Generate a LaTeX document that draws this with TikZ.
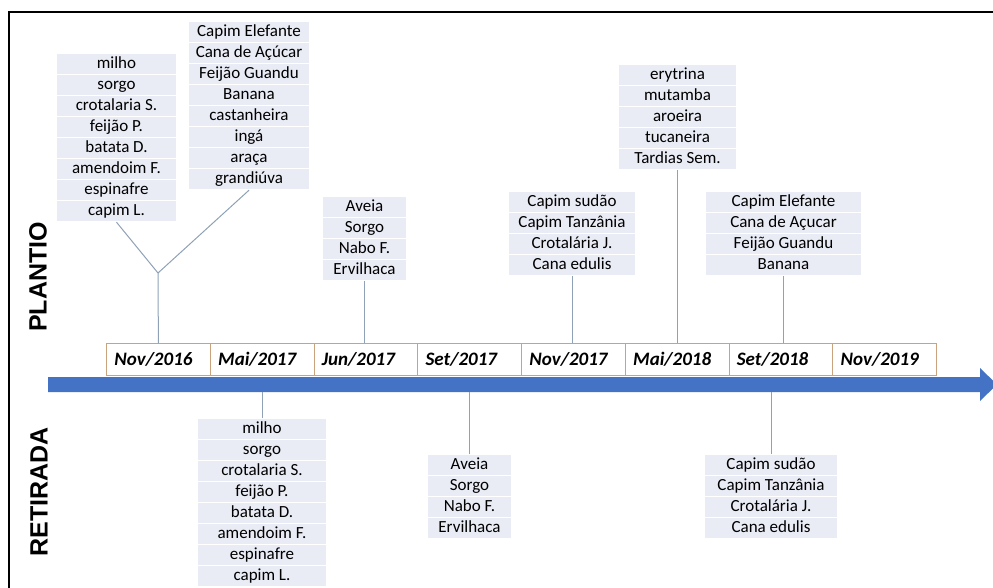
\documentclass[tikz,border=0pt]{standalone}
\usepackage{fontspec}
\setmainfont{Carlito}
\newfontfamily\rotulofont{Liberation Sans}
\definecolor{celulacor}{HTML}{E9EBF5}
\definecolor{ligacaocor}{HTML}{8EA1B7}
\definecolor{bordacor}{HTML}{C9A27E}
\definecolor{setacor}{HTML}{4472C4}
\newcommand{\pilha}[5]{%
  \foreach \txt [count=\i] in {#5} {
    \node[celula, minimum width=#4pt] (#1-\i) at (#2,{#3+(\i-1)*21}) {\txt};
    \coordinate (#1-fim) at (#1-\i.south);
  }%
}
\begin{document}
\begin{tikzpicture}[
        x=1pt, y=-1pt,
        celula/.style={fill=celulacor, draw=white, line width=1.2pt, anchor=north,
            minimum height=21pt, inner sep=0pt, text height=12.5pt, text depth=4pt,
            font=\fontsize{17}{20}\selectfont},
        data/.style={fill=white, draw=bordacor, line width=0.8pt, anchor=north west,
            minimum width=103.75pt, minimum height=32pt, text width=88pt, align=left,
            inner xsep=8pt, font=\fontsize{19}{22}\selectfont\bfseries\itshape},
        ligacao/.style={draw=ligacaocor, line width=1pt},
        rotulo/.style={rotate=90, font=\rotulofont\bfseries\fontsize{25}{28}\selectfont},
    ]
    \useasboundingbox (0,0) rectangle (993,587);
    \draw[line width=1.8pt] (9,600) -- (9,12) -- (1000,12);

    \fill[setacor] (48,377) -- (980,377) -- (980,368) -- (997,384.5)
        -- (980,401) -- (980,392) -- (48,392) -- cycle;
    \coordinate (eixo) at (48,392);

    \foreach \d [count=\i] in {Nov/2016, Mai/2017, Jun/2017, Set/2017,
                               Nov/2017, Mai/2018, Set/2018, Nov/2019} {
        \node[data] (d\i) at ({106+(\i-1)*103.75},343) {\d};
    }

    \node[rotulo] (plantio) at (38,277) {PLANTIO};
    \node[rotulo] (retirada) at (39,492) {RETIRADA};

    % plantio
    \pilha{P1}{116.5}{53}{121}{milho, sorgo, crotalaria S., feijão P., batata D.,
        amendoim F., espinafre, capim L.}
    \pilha{P2}{249}{21}{122}{Capim Elefante, Cana de Açúcar, Feijão Guandu, Banana,
        castanheira, ingá, araça, grandiúva}
    \pilha{P3}{364.5}{196}{85}{Aveia, Sorgo, Nabo F., Ervilhaca}
    \pilha{P4}{572}{191}{128}{Capim sudão, Capim Tanzânia, Crotalária J., Cana edulis}
    \pilha{P5}{677.5}{64}{119}{erytrina, mutamba, aroeira, tucaneira, Tardias Sem.}
    \pilha{P6}{783.5}{191}{157}{Capim Elefante, Cana de Açucar, Feijão Guandu, Banana}

    % retirada
    \pilha{R1}{262}{418}{130}{milho, sorgo, crotalaria S., feijão P., batata D.,
        amendoim F., espinafre, capim L.}
    \pilha{R2}{469.5}{454}{85}{Aveia, Sorgo, Nabo F., Ervilhaca}
    \pilha{R3}{771}{454}{133}{Capim sudão, Capim Tanzânia, Crotalária J., Cana edulis}

    \coordinate (juncao) at (158,273);
    \draw[ligacao] (P1-fim) -- (juncao) -- (d1.north);
    \draw[ligacao] (P2-fim) -- (juncao);
    \draw[ligacao] (P3-fim) -- (P3-fim |- d3.north);
    \draw[ligacao] (P4-fim) -- (P4-fim |- d5.north);
    \draw[ligacao] (P5-fim) -- (P5-fim |- d6.north);
    \draw[ligacao] (P6-fim) -- (P6-fim |- d7.north);
    \draw[ligacao] (R1-1.north) -- (R1-1.north |- eixo);
    \draw[ligacao] (R2-1.north) -- (R2-1.north |- eixo);
    \draw[ligacao] (R3-1.north) -- (R3-1.north |- eixo);
\end{tikzpicture}
\end{document}
